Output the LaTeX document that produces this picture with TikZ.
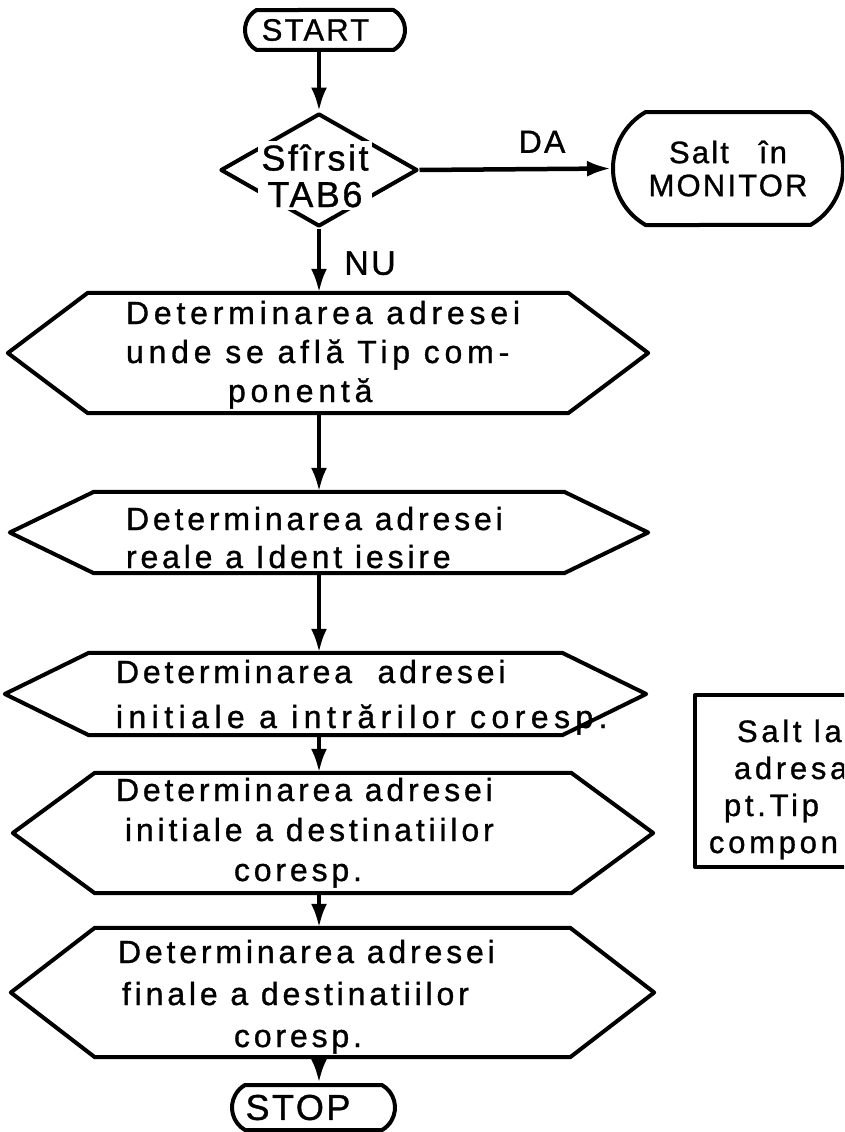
\documentclass[tikz,border=0pt]{standalone}
\usepackage{fontspec}
\setmainfont{Liberation Sans}[LetterSpace=12, FakeBold=1]
\usetikzlibrary{arrows.meta,shapes.geometric,shapes.misc}

% tighter letter spacing for the short capital labels
\newcommand{\tightls}{\addfontfeatures{LetterSpace=7}}
% left-aligned text block: #1 left edge from the node centre,
% #2 height of the first baseline above the node centre, #3 the lines
\newcommand{\blocktext}[3]{\makebox[0pt][l]{\hspace*{#1}%
  \smash{\raisebox{#2}{\begin{tabular}[t]{@{}l@{}}#3\end{tabular}}}}}

\begin{document}
\begin{tikzpicture}[x=1pt,y=-1pt,
  every node/.style={font=\fontsize{32}{39}\selectfont},
  outline/.style={line width=4pt, line join=round},
  flow/.style={line width=4.5pt, -{Latex[length=24pt,width=16pt]}},
  terminal/.style={rounded rectangle, rounded rectangle arc length=120,
    draw, outline, inner sep=0pt},
  decision/.style={diamond, draw, outline, inner sep=0pt},
  hexa/.style={inner sep=0pt,
    append after command={\pgfextra{%
      \draw[outline] ([xshift=#1]\tikzlastnode.north west)
        -- ([xshift=-#1]\tikzlastnode.north east) -- (\tikzlastnode.east)
        -- ([xshift=-#1]\tikzlastnode.south east)
        -- ([xshift=#1]\tikzlastnode.south west) -- (\tikzlastnode.west) -- cycle;}}},
  label/.style={inner sep=0pt},
]
\useasboundingbox (0,0) rectangle (844,1132);
\clip (0,0) rectangle (844,1132);

% terminals and the test
\node[terminal, minimum width=160pt, minimum height=40pt,
  font=\fontsize{31}{39}\selectfont\tightls] (start) at (325,30)
  {START\hspace*{19pt}};
\node[decision, minimum width=197pt, minimum height=113pt] (dec) at (319,170)
  {\smash{\makebox[0pt]{\hspace*{-8pt}\raisebox{-37pt}{\setlength{\fboxsep}{3pt}%
    \colorbox{white}{\fontsize{36}{37}\selectfont\tightls
      \shortstack{Sfîrsit\\[8pt]TAB6}}}}}};
\node[terminal, minimum width=230pt, minimum height=113pt, align=center,
  font=\fontsize{31}{33}\selectfont\tightls] (mon) at (728,168.5)
  {Salt\hspace{30pt}în\\MONITOR};

% processing steps
\node[hexa=80pt, minimum width=640pt, minimum height=120pt,
  font=\fontsize{32}{39}\selectfont\addfontfeatures{LetterSpace=15}] (h1) at (328,353)
  {\blocktext{-202pt}{29pt}{Determinarea adresei\\unde se află Tip com-\\
    \hspace*{102pt}ponentă}};
\node[hexa=84pt, minimum width=638pt, minimum height=81pt,
  font=\fontsize{32}{38}\selectfont] (h2) at (329,532.5)
  {\blocktext{-203pt}{2.5pt}{Determinarea adresei\\reale a Ident iesire}};
\node[hexa=84pt, minimum width=641pt, minimum height=82pt,
  font=\fontsize{32}{45}\selectfont] (h3) at (325.5,694)
  {\blocktext{-209.5pt}{11pt}{Determinarea\ \ adresei\\
    {\addfontfeatures{LetterSpace=17}initiale a intrărilor coresp.}}};
\node[hexa=82pt, minimum width=640pt, minimum height=120pt,
  font=\fontsize{32}{40}\selectfont] (h4) at (333,833)
  {\blocktext{-217pt}{32pt}{Determinarea adresei\\
    \hspace*{9pt}initiale a destinatiilor\\\hspace*{118pt}coresp.}};
\node[hexa=84pt, minimum width=643pt, minimum height=129pt,
  font=\fontsize{32}{42}\selectfont] (h5) at (332.5,992.5)
  {\blocktext{-214.5pt}{29.5pt}{Determinarea adresei\\
    \hspace*{4pt}finale a destinatiilor\\\hspace*{116pt}coresp.}};
\node[terminal, minimum width=163pt, minimum height=45pt,
  font=\fontsize{36}{39}\selectfont\tightls] (stop) at (313.5,1107.5)
  {STOP\hspace*{31pt}};

% side note
\node[draw, outline, minimum width=178pt, minimum height=172pt, anchor=north west,
  inner sep=0pt, font=\fontsize{31}{37}\selectfont] (jump) at (693,693)
  {\blocktext{-75pt}{39pt}{\hspace*{28pt}Salt la\\\hspace*{25pt}adresa\\
    \hspace*{15pt}pt.Tip\\compon.}};

% connectors
\draw[flow] (start.south -| dec.north) -- (dec.north);
\draw[flow] (dec.east) -- node[label, pos=0.64, above=14pt,
  font=\fontsize{32}{39}\selectfont\tightls] {DA} (mon.west);
\draw[flow] (dec.south) -- node[label, pos=0.54, right=23pt,
  font=\fontsize{34}{39}\selectfont\tightls] {NU} (h1.north -| dec.south);
\draw[flow] (h1.south -| dec.south) -- (h2.north -| dec.south);
\draw[flow] (h2.south -| dec.south) -- (h3.north -| dec.south);
\draw[flow] (h3.south -| dec.south) -- (h4.north -| dec.south);
\draw[flow] (h4.south -| dec.south) -- (h5.north -| dec.south);
\draw[flow] (h5.south -| dec.south) -- (stop.north -| dec.south);
\end{tikzpicture}
\end{document}
